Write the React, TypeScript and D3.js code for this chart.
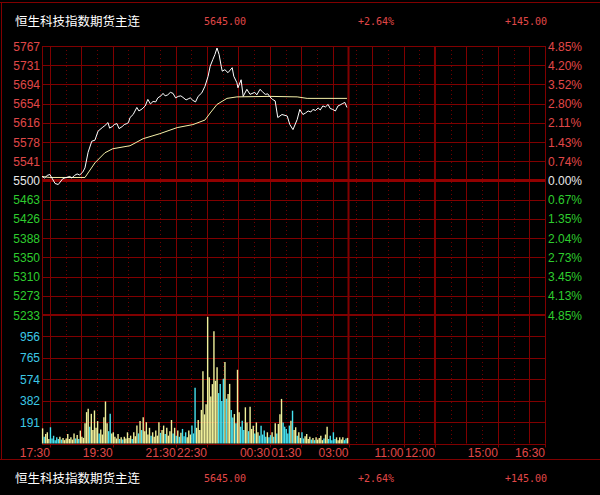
import React from "react";
import * as d3 from "d3";

const title = "恒生科技指数期货主连";
const lastPrice = "5645.00";
const changePct = "+2.64%";
const changeAbs = "+145.00";

const priceLabels = ["5767", "5731", "5694", "5654", "5616", "5578", "5541", "5500", "5463", "5426", "5388", "5350", "5310", "5273", "5233"];
const pctLabels = ["4.85%", "4.20%", "3.52%", "2.80%", "2.11%", "1.43%", "0.74%", "0.00%", "0.67%", "1.35%", "2.04%", "2.73%", "3.45%", "4.13%", "4.85%"];
const volLabels = ["956", "765", "574", "382", "191"];
const volTickValues = [956, 765, 574, 382, 191];
const timeTicks = ["17:30", "19:30", "21:30", "22:30", "00:30", "01:30", "03:00", "11:00", "12:00", "15:00", "16:30"];
const solidGridTimes = ["17:30", "18:30", "19:30", "20:30", "21:30", "22:30", "23:30", "00:30", "01:30", "02:30", "10:00", "11:00", "14:00", "15:00", "16:00"];
const dottedGridTimes = ["18:00", "19:00", "20:00", "21:00", "22:00", "23:00", "00:00", "01:00", "02:00", "09:30", "10:30", "11:30", "13:30", "14:30", "15:30"];
const sessionBreaks = ["03:00", "12:00"];

const priceMin = 5233;
const priceMax = 5767;
const volMax = 1147;

const priceTimes = ["17:15", "17:20", "17:25", "17:30", "17:40", "17:46", "17:55", "18:08", "18:12", "18:17", "18:22", "18:27", "18:33", "18:37", "18:43", "18:50", "18:56", "19:02", "19:10", "19:15", "19:21", "19:24", "19:29", "19:33", "19:38", "19:42", "19:48", "19:52", "19:57", "20:00", "20:03", "20:09", "20:16", "20:20", "20:26", "20:32", "20:37", "20:42", "20:47", "20:52", "20:56", "21:02", "21:06", "21:10", "21:15", "21:20", "21:25", "21:30", "21:35", "21:40", "21:44", "21:50", "21:54", "21:58", "22:03", "22:08", "22:13", "22:20", "22:26", "22:32", "22:36", "22:41", "22:45", "22:49", "22:53", "22:57", "22:59", "23:04", "23:10", "23:18", "23:21", "23:27", "23:29", "23:35", "23:39", "23:46", "23:52", "00:01", "00:05", "00:11", "00:16", "00:21", "00:26", "00:30", "00:35", "00:40", "00:45", "00:53", "01:03", "01:08", "01:14", "01:22", "01:27", "01:33", "01:38", "01:43", "01:48", "01:52", "01:57", "02:02", "02:06", "02:11", "02:16", "02:21", "02:25", "02:30", "02:35", "02:40", "02:44", "02:49", "02:53", "02:57"];
const priceValues = [5508, 5505, 5510, 5512, 5494, 5492, 5504, 5508, 5505, 5510, 5513, 5511, 5517, 5525, 5556, 5578, 5580, 5598, 5605, 5609, 5615, 5604, 5607, 5611, 5613, 5603, 5607, 5611, 5613, 5615, 5625, 5631, 5645, 5638, 5642, 5648, 5661, 5652, 5657, 5656, 5664, 5668, 5673, 5668, 5670, 5675, 5673, 5664, 5667, 5668, 5665, 5660, 5662, 5664, 5659, 5656, 5667, 5674, 5687, 5707, 5727, 5740, 5750, 5763, 5750, 5727, 5717, 5720, 5714, 5724, 5707, 5694, 5684, 5700, 5667, 5681, 5671, 5675, 5670, 5681, 5676, 5671, 5672, 5666, 5661, 5658, 5625, 5631, 5628, 5611, 5601, 5621, 5641, 5631, 5634, 5638, 5636, 5641, 5639, 5644, 5640, 5648, 5646, 5651, 5643, 5641, 5638, 5648, 5650, 5653, 5655, 5645];

const avgTimes = ["17:15", "17:30", "18:37", "18:56", "19:15", "19:30", "20:03", "20:28", "21:00", "21:33", "22:03", "22:26", "22:36", "22:49", "23:08", "23:27", "00:30", "01:22", "01:41", "02:57"];
const avgValues = [5508, 5506, 5506, 5535, 5555, 5563, 5569, 5583, 5593, 5605, 5611, 5620, 5634, 5651, 5663, 5666, 5667, 5666, 5663, 5663];

// volume per 3-minute bucket starting at 17:15
const volumes = [135, 60, 84, 100, 40, 145, 45, 69, 30, 55, 40, 60, 35, 50, 30, 45, 85, 40, 55, 35, 90, 45, 75, 40, 115, 60, 50, 180, 280, 310, 150, 265, 120, 295, 140, 200, 90, 125, 80, 235, 375, 180, 110, 265, 90, 100, 60, 45, 85, 40, 55, 35, 60, 45, 100, 50, 70, 40, 100, 65, 160, 90, 200, 120, 235, 110, 190, 80, 140, 70, 100, 60, 115, 70, 190, 95, 120, 160, 85, 140, 70, 110, 210, 90, 140, 70, 115, 60, 95, 130, 65, 100, 55, 115, 80, 160, 90, 497, 140, 210, 120, 300, 646, 260, 350, 1130, 592, 420, 530, 1002, 560, 680, 450, 532, 380, 577, 727, 400, 442, 532, 300, 233, 263, 180, 658, 278, 150, 203, 120, 323, 188, 110, 329, 130, 158, 90, 188, 100, 70, 158, 80, 115, 60, 100, 55, 75, 100, 60, 180, 90, 175, 260, 398, 188, 150, 130, 90, 160, 203, 293, 120, 145, 70, 100, 50, 100, 45, 65, 85, 40, 60, 35, 50, 30, 55, 35, 50, 70, 30, 45, 80, 150, 40, 70, 30, 100, 40, 55, 30, 55, 35, 55, 30, 45, 50];

function toIndex(t: string): number {
  const [h, m] = t.split(":").map(Number);
  const mins = h * 60 + m;
  if (h >= 17) return mins - (17 * 60 + 15);
  if (h <= 3) return mins + 24 * 60 - (17 * 60 + 15);
  let d = mins - (9 * 60 + 15);
  if (h >= 13) d -= 60;
  return 585 + d;
}

const W = 600;
const H = 495;
const L = 42;
const R = 545;
const T = 46;
const PB = 315;
const VB = 443.5;

const GRID = "rgb(128,0,0)";
const RED = "#e04848";
const GREEN = "#2ecc2e";
const CYAN = "#3cc8e6";
const BAR_CYAN = "#46e2f0";
const BAR_YELLOW = "#f0f09a";
const LABEL_FONT = "'Liberation Sans', Arial, sans-serif";

export default function App() {
  const x = d3.scaleLinear().domain([0, 960]).range([L, R]);
  const y = d3.scaleLinear().domain([priceMin, priceMax]).range([PB, T]);
  const yv = d3.scaleLinear().domain([0, volMax]).range([VB, PB]);
  const rowY = d3.scaleLinear().domain([0, priceLabels.length - 1]).range([T, PB]);

  const priceIdx = priceTimes.map(toIndex);
  const avgIdx = avgTimes.map(toIndex);
  const priceAt = d3.scaleLinear().domain(priceIdx).range(priceValues).clamp(true);

  const line = d3
    .line<number>()
    .x((_, i) => x(priceIdx[i]))
    .y((d) => y(d));
  const avgLine = d3
    .line<number>()
    .x((_, i) => x(avgIdx[i]))
    .y((d) => y(d));

  const f1 = (v: number) => Math.round(v) + 0.5;

  return (
    <svg
      width={W}
      height={H}
      style={{ position: "fixed", left: 0, top: 0, display: "block", background: "#000" }}
    >
      <rect x={0} y={0} width={W} height={H} fill="#000" />
      {/* outer frame */}
      <line x1={0} x2={W} y1={2.5} y2={2.5} stroke={GRID} />
      <line x1={1.5} x2={1.5} y1={2.5} y2={459.5} stroke={GRID} />
      <line x1={0} x2={W} y1={459.5} y2={459.5} stroke={GRID} />

      {/* header */}
      {[26, 483].map((by, k) => (
        <g key={k}>
          <text x={15} y={by} fill="#fff" fontSize={12.5} fontFamily="'Noto Sans CJK SC', sans-serif">
            {title}
          </text>
          <text x={204} y={by - 1} fill={RED} fontSize={10} fontFamily="'DejaVu Sans Mono', monospace">
            {lastPrice}
          </text>
          <text x={358} y={by - 1} fill={RED} fontSize={10} fontFamily="'DejaVu Sans Mono', monospace">
            {changePct}
          </text>
          <text x={505} y={by - 1} fill={RED} fontSize={10} fontFamily="'DejaVu Sans Mono', monospace">
            {changeAbs}
          </text>
        </g>
      ))}

      {/* vertical grid */}
      {dottedGridTimes.map((t) => (
        <line key={"d" + t} x1={f1(x(toIndex(t)))} x2={f1(x(toIndex(t)))} y1={T} y2={VB} stroke="rgb(110,0,0)" strokeDasharray="1 3" />
      ))}
      {solidGridTimes.map((t) => (
        <line key={"s" + t} x1={f1(x(toIndex(t)))} x2={f1(x(toIndex(t)))} y1={T} y2={VB} stroke={GRID} />
      ))}
      {sessionBreaks.map((t) => (
        <line key={"b" + t} x1={x(toIndex(t))} x2={x(toIndex(t))} y1={T} y2={VB} stroke={GRID} strokeWidth={2} />
      ))}
      <line x1={L + 0.5} x2={L + 0.5} y1={T} y2={VB} stroke={GRID} />
      <line x1={R + 0.5} x2={R + 0.5} y1={T} y2={VB} stroke={GRID} />

      {/* horizontal grid: price rows */}
      {priceLabels.map((p, i) => {
        const yy = rowY(i);
        const thick = p === "5500" || i === priceLabels.length - 1;
        return (
          <line
            key={"h" + i}
            x1={L}
            x2={R}
            y1={thick ? yy : f1(yy)}
            y2={thick ? yy : f1(yy)}
            stroke={p === "5500" ? "rgb(145,0,0)" : GRID}
            strokeWidth={p === "5500" ? 3 : thick ? 2 : 1}
          />
        );
      })}
      {volTickValues.map((v) => (
        <line key={"vh" + v} x1={L} x2={R} y1={f1(yv(v))} y2={f1(yv(v))} stroke={GRID} />
      ))}
      <line x1={L} x2={R} y1={f1(VB)} y2={f1(VB)} stroke={GRID} />

      {/* left price labels */}
      {priceLabels.map((p, i) => (
        <text
          key={"pl" + i}
          x={40}
          y={rowY(i) + 4.5}
          textAnchor="end"
          fontSize={12}
          fontFamily={LABEL_FONT}
          fill={i < 7 ? RED : i === 7 ? "#e8e8e8" : GREEN}
        >
          {p}
        </text>
      ))}
      {/* right pct labels */}
      {pctLabels.map((p, i) => (
        <text
          key={"pr" + i}
          x={548}
          y={rowY(i) + 4.5}
          fontSize={12}
          fontFamily={LABEL_FONT}
          fill={i < 7 ? RED : i === 7 ? "#e8e8e8" : GREEN}
        >
          {p}
        </text>
      ))}
      {/* volume labels */}
      {volLabels.map((v, i) => (
        <text
          key={"vl" + i}
          x={40}
          y={yv(volTickValues[i]) + 4.5}
          textAnchor="end"
          fontSize={12}
          fontFamily={LABEL_FONT}
          fill={CYAN}
        >
          {v}
        </text>
      ))}
      {/* time labels */}
      {timeTicks.map((t) => {
        const xx = x(toIndex(t));
        return (
          <g key={"t" + t}>
            <line x1={f1(xx)} x2={f1(xx)} y1={VB} y2={VB + 4} stroke={GRID} />
            <text x={xx} y={457} textAnchor="end" fontSize={12} fontFamily={LABEL_FONT} fill={RED}>
              {t}
            </text>
          </g>
        );
      })}

      {/* volume bars */}
      {volumes.map((v, i) => {
        const t = i * 3;
        const trendUp = priceAt(t + 1.5) >= priceAt(Math.max(0, t - 1.5));
        const volUp = i === 0 || v >= volumes[i - 1];
        const up = trendUp ? volUp || i % 3 !== 0 : volUp && i % 2 === 0;
        const xx = x(t) + 0.6;
        return (
          <line
            key={"v" + i}
            x1={xx}
            x2={xx}
            y1={yv(0)}
            y2={yv(v)}
            stroke={up ? BAR_YELLOW : BAR_CYAN}
            strokeWidth={1.4}
          />
        );
      })}

      {/* lines */}
      <path d={avgLine(avgValues) || ""} fill="none" stroke="#f5f0a8" strokeWidth={1} />
      <path d={line(priceValues) || ""} fill="none" stroke="#ffffff" strokeWidth={1} />
    </svg>
  );
}
